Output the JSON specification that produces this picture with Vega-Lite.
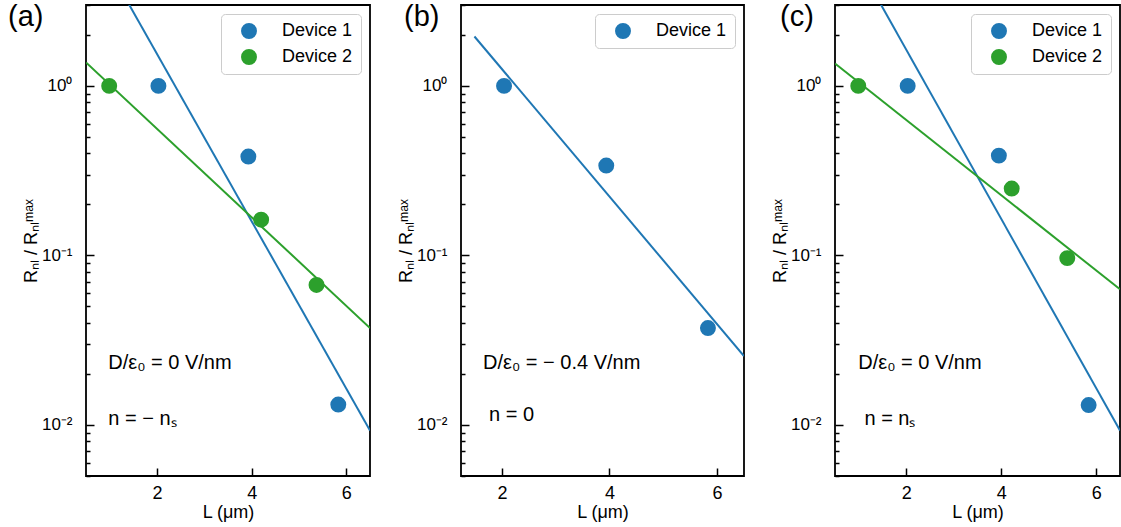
{
  "$schema": "https://vega.github.io/schema/vega-lite/v6.json",
  "padding": {"left": 7, "top": 2, "right": 2, "bottom": 2},
  "config": {
    "font": "Liberation Sans",
    "view": {"stroke": "#000000", "strokeWidth": 1.8},
    "axis": {"grid": false, "domain": false, "ticks": true, "zindex": 1, "tickColor": "#000000", "tickWidth": 1.5, "labelFontSize": 17, "titleFontSize": 18, "labelColor": "#000000", "titleColor": "#000000", "titleFontWeight": "normal", "labelFont": "Liberation Sans", "titleFont": "Liberation Sans"},
    "legend": {"orient": "top-right", "offset": 9, "padding": 8, "symbolOffset": 11, "labelOffset": 24, "rowPadding": 8, "labelFontSize": 18, "labelColor": "#000000", "symbolSize": 254, "symbolType": "circle", "symbolStrokeWidth": 0, "strokeColor": "#cccccc", "cornerRadius": 4, "fillColor": "rgba(255,255,255,0.8)"},
    "title": {"fontSize": 29, "fontWeight": "normal", "color": "#000000", "anchor": "start", "frame": "group", "offset": 0, "baseline": "alphabetic"}
  },
  "datasets": {
    "points": [
      {"panel": "a", "device": "Device 1", "L": 2.03, "R": 1.0},
      {"panel": "a", "device": "Device 1", "L": 3.93, "R": 0.383},
      {"panel": "a", "device": "Device 1", "L": 5.83, "R": 0.0132},
      {"panel": "a", "device": "Device 2", "L": 0.99, "R": 1.0},
      {"panel": "a", "device": "Device 2", "L": 4.2, "R": 0.1625},
      {"panel": "a", "device": "Device 2", "L": 5.37, "R": 0.067},
      {"panel": "b", "device": "Device 1", "L": 2.04, "R": 1.0},
      {"panel": "b", "device": "Device 1", "L": 3.94, "R": 0.339},
      {"panel": "b", "device": "Device 1", "L": 5.83, "R": 0.0373},
      {"panel": "c", "device": "Device 1", "L": 2.03, "R": 1.0},
      {"panel": "c", "device": "Device 1", "L": 3.95, "R": 0.388},
      {"panel": "c", "device": "Device 1", "L": 5.84, "R": 0.0131},
      {"panel": "c", "device": "Device 2", "L": 0.99, "R": 1.0},
      {"panel": "c", "device": "Device 2", "L": 4.22, "R": 0.248},
      {"panel": "c", "device": "Device 2", "L": 5.39, "R": 0.0964}
    ],
    "fits": [
      {"panel": "a", "device": "Device 1", "L": 0.5, "R": 8.49},
      {"panel": "a", "device": "Device 1", "L": 6.5, "R": 0.00927},
      {"panel": "a", "device": "Device 2", "L": 0.5, "R": 1.376},
      {"panel": "a", "device": "Device 2", "L": 6.5, "R": 0.0373},
      {"panel": "b", "device": "Device 1", "L": 1.49, "R": 1.956},
      {"panel": "b", "device": "Device 1", "L": 6.5, "R": 0.0255},
      {"panel": "c", "device": "Device 1", "L": 0.5, "R": 9.17},
      {"panel": "c", "device": "Device 1", "L": 6.5, "R": 0.00927},
      {"panel": "c", "device": "Device 2", "L": 0.5, "R": 1.357},
      {"panel": "c", "device": "Device 2", "L": 6.5, "R": 0.0631}
    ],
    "notes": [
      {"panel": "a", "L": 0.97, "R": 0.0231, "text": "D/ε₀ = 0 V/nm"},
      {"panel": "a", "L": 0.97, "R": 0.0109, "text": "n = − nₛ"},
      {"panel": "b", "L": 1.65, "R": 0.0231, "text": "D/ε₀ = − 0.4 V/nm"},
      {"panel": "b", "L": 1.76, "R": 0.0114, "text": "n = 0"},
      {"panel": "c", "L": 0.99, "R": 0.0231, "text": "D/ε₀ = 0 V/nm"},
      {"panel": "c", "L": 1.12, "R": 0.0109, "text": "n = nₛ"}
    ]
  },
  "spacing": 25,
  "resolve": {"scale": {"x": "independent", "y": "independent", "color": "independent", "stroke": "independent"}, "legend": {"color": "independent"}},
  "hconcat": [
    {
      "width": 284, "height": 471,
      "title": {"text": "(a)", "dx": -78, "dy": 32},
      "encoding": {
        "x": {"field": "L", "type": "quantitative", "scale": {"domain": [0.5, 6.5], "nice": false, "zero": false}, "axis": {"values": [2, 4, 6], "tickSize": -8, "labelPadding": 16, "labelFontSize": 18, "title": "L (μm)", "titlePadding": 1}},
        "y": {"field": "R", "type": "quantitative", "scale": {"type": "log", "domain": [0.005, 3], "nice": false}, "axis": {"values": [0.005, 0.006, 0.007, 0.008, 0.009, 0.01, 0.02, 0.03, 0.04, 0.05, 0.06, 0.07, 0.08, 0.09, 0.1, 0.2, 0.3, 0.4, 0.5, 0.6, 0.7, 0.8, 0.9, 1, 2, 3], "labelExpr": "datum.value == 1 ? '10⁰' : datum.value == 0.1 ? '10⁻¹' : datum.value == 0.01 ? '10⁻²' : ''", "tickSize": {"condition": {"test": "datum.value == 1 || datum.value == 0.1 || datum.value == 0.01", "value": -8}, "value": -4}, "labelPadding": 22, "title": "Rₙₗ / Rₙₗᵐᵃˣ", "titlePadding": 1}}
      },
      "layer": [
        {"data": {"name": "fits"}, "transform": [{"filter": "datum.panel == 'a'"}], "mark": {"type": "line", "clip": true, "strokeWidth": 2}, "encoding": {"stroke": {"field": "device", "type": "nominal", "scale": {"range": ["#1f77b4", "#2ca02c"]}, "legend": null}, "detail": {"field": "device"}}},
        {"data": {"name": "points"}, "transform": [{"filter": "datum.panel == 'a'"}], "mark": {"type": "point", "filled": true, "opacity": 1, "size": 254}, "encoding": {"color": {"field": "device", "type": "nominal", "scale": {"range": ["#1f77b4", "#2ca02c"]}, "legend": {"title": null}}}},
        {"data": {"name": "notes"}, "transform": [{"filter": "datum.panel == 'a'"}], "mark": {"type": "text", "align": "left", "baseline": "middle", "fontSize": 20, "color": "#000000"}, "encoding": {"text": {"field": "text"}}}
      ]
    },
    {
      "width": 283, "height": 471,
      "title": {"text": "(b)", "dx": -57, "dy": 32},
      "encoding": {
        "x": {"field": "L", "type": "quantitative", "scale": {"domain": [1.24, 6.5], "nice": false, "zero": false}, "axis": {"values": [2, 4, 6], "tickSize": -8, "labelPadding": 16, "labelFontSize": 18, "title": "L (μm)", "titlePadding": 1}},
        "y": {"field": "R", "type": "quantitative", "scale": {"type": "log", "domain": [0.005, 3], "nice": false}, "axis": {"values": [0.005, 0.006, 0.007, 0.008, 0.009, 0.01, 0.02, 0.03, 0.04, 0.05, 0.06, 0.07, 0.08, 0.09, 0.1, 0.2, 0.3, 0.4, 0.5, 0.6, 0.7, 0.8, 0.9, 1, 2, 3], "labelExpr": "datum.value == 1 ? '10⁰' : datum.value == 0.1 ? '10⁻¹' : datum.value == 0.01 ? '10⁻²' : ''", "tickSize": {"condition": {"test": "datum.value == 1 || datum.value == 0.1 || datum.value == 0.01", "value": -8}, "value": -4}, "labelPadding": 22, "title": "Rₙₗ / Rₙₗᵐᵃˣ", "titlePadding": 1}}
      },
      "layer": [
        {"data": {"name": "fits"}, "transform": [{"filter": "datum.panel == 'b'"}], "mark": {"type": "line", "clip": true, "strokeWidth": 2}, "encoding": {"stroke": {"field": "device", "type": "nominal", "scale": {"range": ["#1f77b4", "#2ca02c"]}, "legend": null}, "detail": {"field": "device"}}},
        {"data": {"name": "points"}, "transform": [{"filter": "datum.panel == 'b'"}], "mark": {"type": "point", "filled": true, "opacity": 1, "size": 254}, "encoding": {"color": {"field": "device", "type": "nominal", "scale": {"range": ["#1f77b4", "#2ca02c"]}, "legend": {"title": null}}}},
        {"data": {"name": "notes"}, "transform": [{"filter": "datum.panel == 'b'"}], "mark": {"type": "text", "align": "left", "baseline": "middle", "fontSize": 20, "color": "#000000"}, "encoding": {"text": {"field": "text"}}}
      ]
    },
    {
      "width": 285, "height": 471,
      "title": {"text": "(c)", "dx": -55, "dy": 32},
      "encoding": {
        "x": {"field": "L", "type": "quantitative", "scale": {"domain": [0.5, 6.5], "nice": false, "zero": false}, "axis": {"values": [2, 4, 6], "tickSize": -8, "labelPadding": 16, "labelFontSize": 18, "title": "L (μm)", "titlePadding": 1}},
        "y": {"field": "R", "type": "quantitative", "scale": {"type": "log", "domain": [0.005, 3], "nice": false}, "axis": {"values": [0.005, 0.006, 0.007, 0.008, 0.009, 0.01, 0.02, 0.03, 0.04, 0.05, 0.06, 0.07, 0.08, 0.09, 0.1, 0.2, 0.3, 0.4, 0.5, 0.6, 0.7, 0.8, 0.9, 1, 2, 3], "labelExpr": "datum.value == 1 ? '10⁰' : datum.value == 0.1 ? '10⁻¹' : datum.value == 0.01 ? '10⁻²' : ''", "tickSize": {"condition": {"test": "datum.value == 1 || datum.value == 0.1 || datum.value == 0.01", "value": -8}, "value": -4}, "labelPadding": 22, "title": "Rₙₗ / Rₙₗᵐᵃˣ", "titlePadding": 1}}
      },
      "layer": [
        {"data": {"name": "fits"}, "transform": [{"filter": "datum.panel == 'c'"}], "mark": {"type": "line", "clip": true, "strokeWidth": 2}, "encoding": {"stroke": {"field": "device", "type": "nominal", "scale": {"range": ["#1f77b4", "#2ca02c"]}, "legend": null}, "detail": {"field": "device"}}},
        {"data": {"name": "points"}, "transform": [{"filter": "datum.panel == 'c'"}], "mark": {"type": "point", "filled": true, "opacity": 1, "size": 254}, "encoding": {"color": {"field": "device", "type": "nominal", "scale": {"range": ["#1f77b4", "#2ca02c"]}, "legend": {"title": null}}}},
        {"data": {"name": "notes"}, "transform": [{"filter": "datum.panel == 'c'"}], "mark": {"type": "text", "align": "left", "baseline": "middle", "fontSize": 20, "color": "#000000"}, "encoding": {"text": {"field": "text"}}}
      ]
    }
  ]
}
